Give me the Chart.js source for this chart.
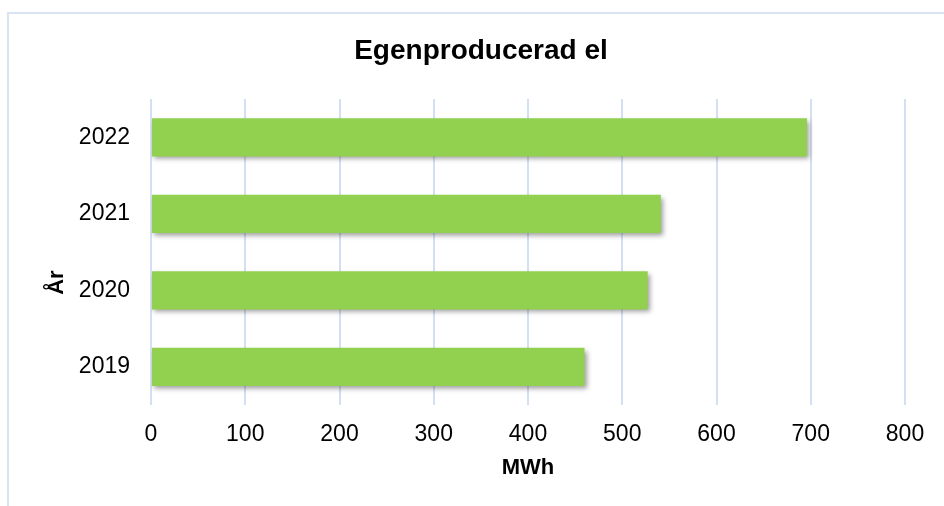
<!DOCTYPE html>
<html>
<head>
<meta charset="utf-8">
<script src="https://cdn.jsdelivr.net/npm/chart.js@4"></script>
<style>
  html, body { margin: 0; padding: 0; background: #ffffff; }
  #wrap { position: relative; width: 944px; height: 506px; overflow: hidden; }
  #frame {
    position: absolute; left: 7px; top: 12px; width: 960px; height: 520px;
    border: 2px solid #d9e4f3; box-sizing: border-box; pointer-events: none;
  }
  #c { position: absolute; left: 0; top: 0; }
</style>
</head>
<body>
<div id="wrap">
  <div id="frame"></div>
  <canvas id="c" width="944" height="506"></canvas>
</div>
<script>
// Egenproducerad el per år (MWh)
const years = ['2019', '2020', '2021', '2022'];
const mwh = [460, 527, 541, 696];
const xTicks = [0, 100, 200, 300, 400, 500, 600, 700, 800];

const FONT = '"Liberation Sans", Arial, sans-serif';
const GREEN = '#92d050';
const GRID = '#d3dff2';

// soft drop shadow under the bars
const barShadow = {
  id: 'barShadow',
  beforeDatasetsDraw(chart) {
    const ctx = chart.ctx;
    ctx.save();
    ctx.shadowColor = 'rgba(0,0,0,0.38)';
    ctx.shadowBlur = 5;
    ctx.shadowOffsetX = 2;
    ctx.shadowOffsetY = 3;
  },
  afterDatasetsDraw(chart) {
    chart.ctx.restore();
  }
};

// chart heading and rotated category-axis title
const headings = {
  id: 'headings',
  afterDraw(chart) {
    const ctx = chart.ctx;
    const a = chart.chartArea;
    ctx.save();
    ctx.fillStyle = '#000000';
    ctx.textAlign = 'center';
    ctx.textBaseline = 'middle';
    ctx.font = 'bold 28px ' + FONT;
    ctx.fillText('Egenproducerad el', 481, 51);
    ctx.translate(57, a.top + a.height * 0.6);
    ctx.rotate(-Math.PI / 2);
    ctx.font = 'bold 22px ' + FONT;
    ctx.fillText('År', 0, 0);
    ctx.restore();
  }
};

new Chart(document.getElementById('c'), {
  type: 'bar',
  data: {
    labels: years,
    datasets: [{
      label: 'Egenproducerad el',
      data: mwh,
      backgroundColor: GREEN,
      borderWidth: 0,
      barPercentage: 0.5,
      categoryPercentage: 1.0
    }]
  },
  options: {
    indexAxis: 'y',
    responsive: false,
    animation: false,
    layout: { padding: { left: 0, right: 39, top: 99, bottom: 0 } },
    plugins: {
      legend: { display: false },
      tooltip: { enabled: false },
      title: { display: false }
    },
    scales: {
      x: {
        min: 0,
        max: 800,
        afterBuildTicks(scale) {
          scale.ticks = xTicks.map(v => ({ value: v }));
        },
        afterFit(scale) { scale.height = 101; },
        grid: { color: GRID, lineWidth: 2, drawTicks: false },
        border: { display: false },
        ticks: {
          color: '#000000',
          font: { family: FONT, size: 23 },
          padding: 16
        },
        title: {
          display: true,
          text: 'MWh',
          color: '#000000',
          font: { family: FONT, size: 22, weight: 'bold' },
          padding: { top: 4, bottom: 25 }
        }
      },
      y: {
        reverse: true,
        afterFit(scale) { scale.width = 151; },
        grid: { display: false, drawTicks: false },
        border: { display: false },
        ticks: {
          color: '#000000',
          font: { family: FONT, size: 23 },
          padding: 21
        }
      }
    }
  },
  plugins: [barShadow, headings]
});
</script>
</body>
</html>
